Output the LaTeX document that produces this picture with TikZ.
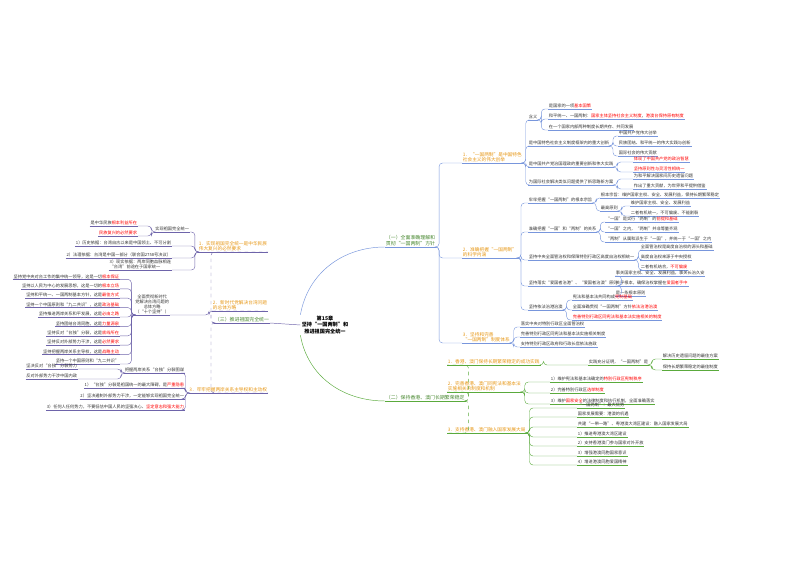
\documentclass[tikz,border=0pt]{standalone}
\usepackage{fontspec}
\setmainfont{Noto Sans CJK SC}
\usetikzlibrary{positioning}
\definecolor{mapblue}{RGB}{120,150,220}
\definecolor{mapgreen}{RGB}{90,170,60}
\definecolor{mapviolet}{RGB}{110,100,170}
\definecolor{maporange}{RGB}{230,150,20}
\tikzset{
  ul/.style={append after command={(\tikzlastnode.south west) edge[draw=#1,line width=0.35pt] (\tikzlastnode.south east)}},
  leaf/.style={inner sep=0.6pt, font=\fontsize{3.6}{4.3}\selectfont, align=left, text=black!80},
  sub/.style={leaf, text=maporange, font=\fontsize{4}{4.8}\selectfont},
  main/.style={leaf, text=mapgreen!80!black, font=\fontsize{4.2}{5}\selectfont}
}
% right and left connectors
\newcommand\rlink[3]{\draw[#3,line width=0.35pt,rounded corners=3] (#1.south east) -- ++(3,0) |- (#2.south west);}
\newcommand\llink[3]{\draw[#3,line width=0.35pt,rounded corners=3] (#1.south west) -- ++(-3,0) |- (#2.south east);}
\newcommand\hl[1]{\textcolor{red}{#1}}
\begin{document}
\begin{tikzpicture}[x=0.03cm,y=-0.03cm]
\useasboundingbox (0,0) rectangle (800,565);
\node[font=\fontsize{4.4}{5.4}\selectfont\bfseries,align=center,inner sep=1pt] (root) at (325,325) {第15章\\坚持“一国两制”和\\推进祖国完全统一};

% (一)
\node[main,ul=mapblue,anchor=south west] (b1) at (385,247) {（一）全面准确理解和\\贯彻“一国两制”方针};
\draw[mapblue,line width=0.4pt] (root.north west) to[out=80,in=180] (b1.south west);
\node[sub,ul=mapblue,anchor=south west] (c1) at (462,163) {1．“一国两制”是中国特色\\社会主义的伟大创举};
\node[sub,ul=mapblue,anchor=south west] (c2) at (462,258) {2．准确把握“一国两制”\\的科学内涵};
\node[sub,ul=mapblue,anchor=south west] (c3) at (462,343) {3．坚持和完善\\“一国两制”制度体系};
\foreach \c in {c1,c2,c3} {\rlink{b1}{\c}{mapblue}}

\node[leaf,ul=mapblue,anchor=south west] (d11) at (528,120) {含义};
\node[leaf,ul=mapblue,anchor=south west] (d12) at (528,146) {是中国特色社会主义制度框架内的重大创新};
\node[leaf,ul=mapblue,anchor=south west] (d13) at (528,167) {是中国共产党治国理政的重要创新和伟大实践};
\node[leaf,ul=mapblue,anchor=south west] (d14) at (528,185) {为国际社会解决类似问题提供了新思路新方案};
\foreach \d in {d11,d12,d13,d14} {\rlink{c1}{\d}{mapblue}}
\node[leaf,ul=mapblue,anchor=south west] (l111) at (548,109) {是国家的一项\hl{基本国策}};
\node[leaf,ul=mapblue,anchor=south west] (l112) at (548,119) {和平统一、一国两制：\hl{国家主体坚持社会主义制度}，\hl{港澳台保持原有制度}};
\node[leaf,ul=mapblue,anchor=south west] (l113) at (548,130) {在一个国家内部两种制度长期共存、共同发展};
\foreach \l in {l111,l112,l113} {\rlink{d11}{\l}{mapblue}}
\node[leaf,ul=mapblue,anchor=south west] (l121) at (618,136) {中国共产党伟大创举};
\node[leaf,ul=mapblue,anchor=south west] (l122) at (618,146) {民族团结、和平统一的伟大实践与创新};
\node[leaf,ul=mapblue,anchor=south west] (l123) at (618,156) {国际社会的伟大贡献};
\foreach \l in {l121,l122,l123} {\rlink{d12}{\l}{mapblue}}
\node[leaf,ul=mapblue,anchor=south west] (l131) at (633,162) {\hl{体现了中国共产党的政治智慧}};
\node[leaf,ul=mapblue,anchor=south west] (l132) at (633,172) {\hl{坚持原则性与灵活性相统一}};
\foreach \l in {l131,l132} {\rlink{d13}{\l}{mapblue}}
\node[leaf,ul=mapblue,anchor=south west] (l141) at (633,179) {为和平解决国家间历史遗留问题};
\node[leaf,ul=mapblue,anchor=south west] (l142) at (633,189) {作出了重大贡献，为世界和平提供借鉴};
\foreach \l in {l141,l142} {\rlink{d14}{\l}{mapblue}}

\node[leaf,ul=mapblue,anchor=south west] (d21) at (528,203) {牢牢把握“一国两制”的根本宗旨};
\node[leaf,ul=mapblue,anchor=south west] (d22) at (528,232) {准确把握“一国”和“两制”的关系};
\node[leaf,ul=mapblue,anchor=south west] (d23) at (528,260) {坚持中央全面管治权和保障特别行政区高度自治权相统一};
\node[leaf,ul=mapblue,anchor=south west] (d24) at (528,286) {坚持落实“爱国者治港”、“爱国者治澳”原则};
\node[leaf,ul=mapblue,anchor=south west] (d25) at (528,310) {坚持依法治港治澳};
\foreach \d in {d21,d22,d23,d24,d25} {\rlink{c2}{\d}{mapblue}}
\node[leaf,ul=mapblue,anchor=south west] (l211) at (600,198) {根本宗旨：维护国家主权、安全、发展利益，保持长期繁荣稳定};
\node[leaf,ul=mapblue,anchor=south west] (l212) at (600,211) {最高原则};
\foreach \l in {l211,l212} {\rlink{d21}{\l}{mapblue}}
\node[leaf,ul=mapblue,anchor=south west] (l2121) at (630,206) {维护国家主权、安全、发展利益};
\node[leaf,ul=mapblue,anchor=south west] (l2122) at (630,216) {二者有机统一，不可偏废、不能割裂};
\foreach \l in {l2121,l2122} {\rlink{l212}{\l}{mapblue}}
\node[leaf,ul=mapblue,anchor=south west] (l221) at (605,222) {“一国”是实行“两制”的\hl{前提和基础}};
\node[leaf,ul=mapblue,anchor=south west] (l222) at (605,232) {“一国”之内，“两制”并非等量齐观};
\node[leaf,ul=mapblue,anchor=south west] (l223) at (605,242) {“两制”从属和派生于“一国”，并统一于“一国”之内};
\foreach \l in {l221,l222,l223} {\rlink{d22}{\l}{mapblue}}
\node[leaf,ul=mapblue,anchor=south west] (l231) at (640,250) {全面管治权是高度自治权的源头和基础};
\node[leaf,ul=mapblue,anchor=south west] (l232) at (640,260) {高度自治权来源于中央授权};
\node[leaf,ul=mapblue,anchor=south west] (l233) at (640,270) {二者有机结合，\hl{不可偏废}};
\foreach \l in {l231,l232,l233} {\rlink{d23}{\l}{mapblue}}
\node[leaf,ul=mapblue,anchor=south west] (l241) at (615,276) {事关国家主权、安全、发展利益，事关长治久安};
\node[leaf,ul=mapblue,anchor=south west] (l242) at (615,286) {关乎根本，确保治权掌握在\hl{爱国者手中}};
\node[leaf,ul=mapblue,anchor=south west] (l243) at (615,296) {是一条根本原则};
\foreach \l in {l241,l242,l243} {\rlink{d24}{\l}{mapblue}}
\node[leaf,ul=mapblue,anchor=south west] (l251) at (572,300) {宪法和基本法共同构成\hl{宪制基础}};
\node[leaf,ul=mapblue,anchor=south west] (l252) at (572,310) {全面准确贯彻“一国两制”方针\hl{依法治港治澳}};
\node[leaf,ul=mapblue,anchor=south west] (l253) at (572,320) {\hl{完善特别行政区同宪法和基本法实施相关的制度}};
\foreach \l in {l251,l252,l253} {\rlink{d25}{\l}{mapblue}}
\node[leaf,ul=mapblue,anchor=south west] (l31) at (520,327) {落实中央对特别行政区全面管治权};
\node[leaf,ul=mapblue,anchor=south west] (l32) at (520,337) {完善特别行政区同宪法和基本法实施相关制度};
\node[leaf,ul=mapblue,anchor=south west] (l33) at (520,347) {支持特别行政区政府和行政长官依法施政};
\foreach \l in {l31,l32,l33} {\rlink{c3}{\l}{mapblue}}

% (二)
\node[main,ul=mapgreen,anchor=south west] (b2) at (385,401) {（二）保持香港、澳门长期繁荣稳定};
\draw[mapgreen,line width=0.4pt] (root.south west) to[out=-80,in=180] (b2.south west);
\node[sub,ul=mapgreen,anchor=south west] (e1) at (447,365) {1．香港、澳门保持长期繁荣稳定的成功实践};
\node[sub,ul=mapgreen,anchor=south west] (e2) at (447,392) {2．完善香港、澳门同宪法和基本法\\实施相关的制度和机制};
\node[sub,ul=mapgreen,anchor=south west] (e3) at (447,433) {3．支持香港、澳门融入国家发展大局};
\foreach \e in {e1,e2,e3} {\rlink{b2}{\e}{mapgreen,dashed}}
\node[leaf,ul=mapgreen,anchor=south west] (f1) at (588,365) {实践充分证明，“一国两制”是};
\rlink{e1}{f1}{mapgreen}
\node[leaf,ul=mapgreen,anchor=south west] (m11) at (662,359) {解决历史遗留问题的最佳方案};
\node[leaf,ul=mapgreen,anchor=south west] (m12) at (662,370) {保持长期繁荣稳定的最佳制度};
\foreach \l in {m11,m12} {\rlink{f1}{\l}{mapgreen}}
\node[leaf,ul=mapgreen,anchor=south west] (m21) at (550,382) {1）维护宪法和基本法确定的\hl{特别行政区宪制秩序}};
\node[leaf,ul=mapgreen,anchor=south west] (m22) at (550,393) {2）完善特别行政区\hl{选举制度}};
\node[leaf,ul=mapgreen,anchor=south west] (m23) at (550,404) {3）维护\hl{国家安全}的法律制度和执行机制，全面准确落实};
\foreach \l in {m21,m22,m23} {\rlink{e2}{\l}{mapgreen}}
\node[leaf,ul=mapgreen,anchor=south west] (m31) at (577,408) {“一国两制”：最大优势};
\node[leaf,ul=mapgreen,anchor=south west] (m32) at (577,417) {国家发展需要：港澳的机遇};
\node[leaf,ul=mapgreen,anchor=south west] (m33) at (577,427) {共建“一带一路”、粤港澳大湾区建设：融入国家发展大局};
\node[leaf,ul=mapgreen,anchor=south west] (m34) at (577,437) {1）推进粤港澳大湾区建设};
\node[leaf,ul=mapgreen,anchor=south west] (m35) at (577,446) {2）支持香港澳门参与国家对外开放};
\node[leaf,ul=mapgreen,anchor=south west] (m36) at (577,456) {3）增强港澳同胞国家意识};
\node[leaf,ul=mapgreen,anchor=south west] (m37) at (577,465) {4）增进港澳同胞爱国精神};
\foreach \l in {m31,m32,m33,m34,m35,m36,m37} {\rlink{e3}{\l}{mapgreen}}

% (三)
\node[main,ul=mapviolet,anchor=south east] (b3) at (270,323) {（三）推进祖国完全统一};
\draw[mapviolet,line width=0.4pt] (root.west) -- (b3.south east);
\node[sub,ul=mapviolet,anchor=south east] (g1) at (268,252) {1．实现祖国完全统一是中华民族\\伟大复兴的必然要求};
\node[sub,ul=mapviolet,anchor=south east] (g2) at (268,311) {2．新时代党解决台湾问题\\的总体方略};
\node[sub,ul=mapviolet,anchor=south east] (g3) at (268,393) {3．牢牢把握两岸关系主导权和主动权};
\foreach \g in {g1,g2,g3} {\llink{b3}{\g}{mapviolet,dashed}}

\node[leaf,ul=mapviolet,anchor=south east] (h11) at (190,232) {实现祖国完全统一};
\llink{g1}{h11}{mapviolet}
\node[leaf,ul=mapviolet,anchor=south east] (n111) at (138,226) {是中华民族\hl{根本利益所在}};
\node[leaf,ul=mapviolet,anchor=south east] (n112) at (138,236) {\hl{民族复兴的必然要求}};
\foreach \l in {n111,n112} {\llink{h11}{\l}{mapviolet}}
\node[leaf,ul=mapviolet,anchor=south east] (n12) at (172,246) {1）历史依据：台湾自古以来是中国领土、不可分割};
\node[leaf,ul=mapviolet,anchor=south east] (n13) at (172,258) {2）法理依据：台湾是中国一部分（联合国2758号决议）};
\node[leaf,ul=mapviolet,anchor=south east] (n14) at (172,270) {3）现实依据：两岸同胞血脉相连\\“台湾”前途在于国家统一};
\foreach \l in {n12,n13,n14} {\llink{g1}{\l}{mapviolet}}

\node[leaf,ul=mapviolet,anchor=south east,align=center] (h2) at (170,315) {全面贯彻新时代\\党解决台湾问题的\\总体方略\\（“十个坚持”）};
\llink{g2}{h2}{mapviolet}
\foreach \t [count=\i] in {坚持党中央对台工作的集中统一领导，这是一切\hl{根本保证},
  坚持以人民为中心的发展思想，这是一切的\hl{根本立场},
  坚持和平统一、一国两制基本方针，这是\hl{最佳方式},
  坚持一个中国原则和“九二共识”，这是\hl{政治基础},
  坚持推进两岸关系和平发展，这是\hl{必由之路},
  坚持团结台湾同胞，这是\hl{力量源泉},
  坚持反对“台独”分裂，这是\hl{底线所在},
  坚持反对外部势力干涉，这是\hl{必然要求},
  坚持把握两岸关系主导权，这是\hl{战略主动}}
  {\node[leaf,ul=mapviolet,anchor=south east] (p\i) at (120,270+9.4*\i) {\t};
   \llink{h2}{p\i}{mapviolet}}
\node[leaf,ul=mapviolet,anchor=south east] (p10) at (120,364) {坚持一个中国原则和“九二共识”};
\llink{h2}{p10}{mapviolet}

\node[leaf,ul=mapviolet,anchor=south east] (h31) at (185,373) {把握两岸关系“台独”分裂图谋};
\llink{g3}{h31}{mapviolet}
\node[leaf,ul=mapviolet,anchor=south east] (q1) at (78,369) {坚决反对“台独”分裂势力};
\node[leaf,ul=mapviolet,anchor=south east] (q2) at (78,379) {反对外部势力干涉中国内政};
\foreach \l in {q1,q2} {\llink{h31}{\l}{mapviolet}}
\node[leaf,ul=mapviolet,anchor=south east] (q3) at (185,388) {1）“台独”分裂是祖国统一的最大障碍，是\hl{严重隐患}};
\node[leaf,ul=mapviolet,anchor=south east] (q4) at (185,399) {2）坚决遏制外部势力干涉，一定能够实现祖国完全统一};
\node[leaf,ul=mapviolet,anchor=south east] (q5) at (185,410) {3）任何人任何势力，不要低估中国人民的坚强决心、\hl{坚定意志和强大能力}};
\foreach \l in {q3,q4,q5} {\llink{g3}{\l}{mapviolet}}
\end{tikzpicture}
\end{document}
